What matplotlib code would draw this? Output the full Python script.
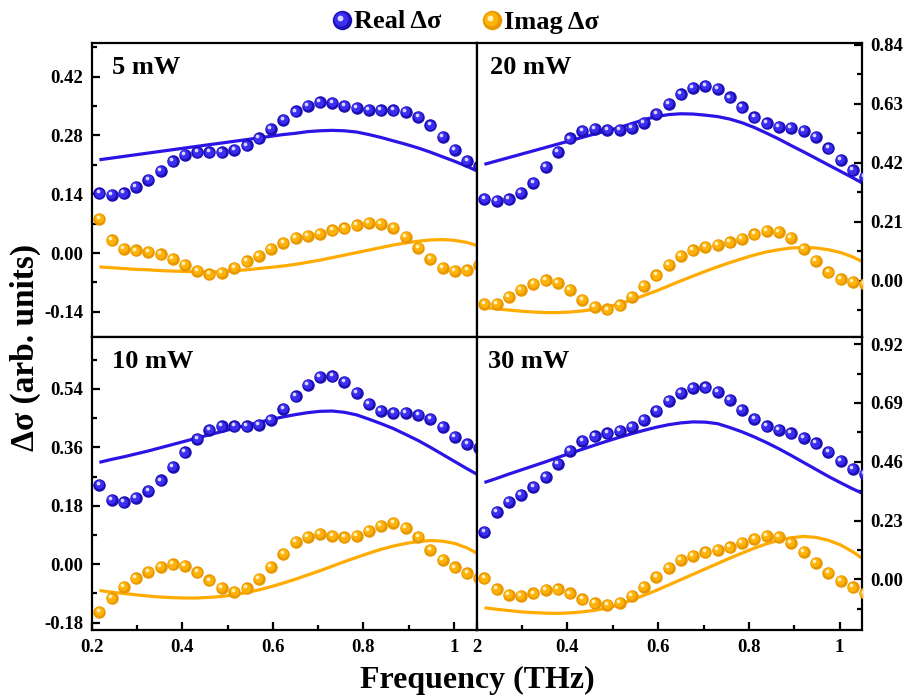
import matplotlib
matplotlib.use("Agg")
import matplotlib.pyplot as plt
from matplotlib.ticker import FixedLocator, FixedFormatter, FuncFormatter
from matplotlib.transforms import ScaledTranslation

plt.rcParams["font.family"] = ["Liberation Serif", "DejaVu Serif"]
plt.rcParams["font.weight"] = "bold"
plt.rcParams["axes.unicode_minus"] = False

# frequency grid (THz)
freq = [0.217, 0.244, 0.271, 0.298, 0.325, 0.352, 0.379, 0.406, 0.433, 0.460,
        0.488, 0.515, 0.542, 0.569, 0.596, 0.623, 0.650, 0.677, 0.704, 0.731,
        0.758, 0.785, 0.812, 0.839, 0.866, 0.893, 0.921, 0.948, 0.975, 1.002,
        1.029, 1.056]

# 5 mW
real_5 = [0.142, 0.138, 0.142, 0.158, 0.174, 0.196, 0.218, 0.234, 0.240, 0.240,
          0.240, 0.245, 0.256, 0.273, 0.296, 0.317, 0.337, 0.351, 0.359, 0.357,
          0.351, 0.345, 0.341, 0.340, 0.340, 0.336, 0.325, 0.304, 0.277, 0.245,
          0.220, 0.206]
imag_5 = [0.081, 0.030, 0.010, 0.006, 0.002, -0.003, -0.014, -0.029, -0.043, -0.051,
          -0.048, -0.035, -0.020, -0.006, 0.010, 0.025, 0.036, 0.041, 0.046, 0.054,
          0.059, 0.066, 0.072, 0.070, 0.060, 0.038, 0.013, -0.014, -0.035, -0.043,
          -0.041, -0.029]
real_fit_5 = [0.222, 0.226, 0.230, 0.234, 0.238, 0.242, 0.246, 0.250, 0.254, 0.258,
              0.262, 0.266, 0.270, 0.274, 0.278, 0.282, 0.285, 0.289, 0.291, 0.292,
              0.291, 0.288, 0.282, 0.275, 0.267, 0.259, 0.250, 0.240, 0.229, 0.218,
              0.206, 0.193]
imag_fit_5 = [-0.033, -0.035, -0.037, -0.039, -0.040, -0.042, -0.043, -0.044, -0.045, -0.045,
              -0.044, -0.042, -0.040, -0.037, -0.034, -0.031, -0.027, -0.022, -0.017, -0.011,
              -0.005, 0.001, 0.007, 0.013, 0.019, 0.024, 0.028, 0.031, 0.032, 0.030,
              0.025, 0.016]

# 20 mW
real_20 = [0.293, 0.284, 0.290, 0.314, 0.350, 0.406, 0.460, 0.507, 0.535, 0.541,
           0.537, 0.537, 0.546, 0.563, 0.594, 0.630, 0.664, 0.688, 0.694, 0.683,
           0.653, 0.618, 0.582, 0.561, 0.549, 0.546, 0.535, 0.513, 0.472, 0.430,
           0.394, 0.371]
imag_20 = [-0.083, -0.081, -0.057, -0.031, -0.010, 0.002, -0.006, -0.033, -0.067, -0.093,
           -0.102, -0.087, -0.057, -0.019, 0.020, 0.058, 0.088, 0.109, 0.121, 0.127,
           0.137, 0.149, 0.166, 0.177, 0.175, 0.153, 0.115, 0.071, 0.030, 0.005,
           -0.004, -0.010]
real_fit_20 = [0.415, 0.427, 0.439, 0.451, 0.463, 0.475, 0.487, 0.499, 0.511, 0.523,
               0.535, 0.546, 0.560, 0.574, 0.585, 0.592, 0.595, 0.594, 0.590, 0.585,
               0.576, 0.563, 0.546, 0.526, 0.505, 0.482, 0.459, 0.436, 0.413, 0.390,
               0.367, 0.343]
imag_fit_20 = [-0.095, -0.100, -0.104, -0.108, -0.111, -0.113, -0.113, -0.111, -0.107, -0.101,
               -0.093, -0.082, -0.068, -0.052, -0.036, -0.018, 0.000, 0.017, 0.034, 0.050,
               0.065, 0.079, 0.092, 0.103, 0.111, 0.117, 0.119, 0.117, 0.111, 0.101,
               0.085, 0.064]

# 10 mW
real_10 = [0.244, 0.199, 0.191, 0.204, 0.227, 0.258, 0.299, 0.345, 0.386, 0.415,
           0.425, 0.425, 0.425, 0.430, 0.445, 0.479, 0.517, 0.553, 0.577, 0.579,
           0.562, 0.528, 0.495, 0.473, 0.466, 0.466, 0.461, 0.447, 0.423, 0.392,
           0.370, 0.358]
imag_10 = [-0.146, -0.105, -0.069, -0.043, -0.023, -0.007, 0.000, -0.004, -0.025, -0.050,
           -0.072, -0.084, -0.074, -0.046, -0.009, 0.031, 0.068, 0.085, 0.093, 0.087,
           0.083, 0.087, 0.103, 0.118, 0.127, 0.113, 0.085, 0.044, 0.013, -0.010,
           -0.028, -0.043]
real_fit_10 = [0.314, 0.323, 0.331, 0.340, 0.349, 0.359, 0.369, 0.379, 0.389, 0.399,
               0.409, 0.419, 0.428, 0.437, 0.446, 0.454, 0.461, 0.467, 0.471, 0.472,
               0.468, 0.460, 0.447, 0.433, 0.418, 0.400, 0.381, 0.360, 0.338, 0.316,
               0.294, 0.273]
imag_fit_10 = [-0.081, -0.086, -0.090, -0.094, -0.098, -0.101, -0.103, -0.104, -0.104, -0.102,
               -0.099, -0.094, -0.087, -0.079, -0.069, -0.058, -0.046, -0.033, -0.020, -0.006,
               0.008, 0.021, 0.034, 0.046, 0.056, 0.064, 0.070, 0.073, 0.071, 0.064,
               0.050, 0.030]

# 30 mW
real_30 = [0.186, 0.265, 0.304, 0.332, 0.362, 0.401, 0.453, 0.503, 0.542, 0.560,
           0.571, 0.581, 0.597, 0.625, 0.659, 0.697, 0.730, 0.749, 0.751, 0.734,
           0.701, 0.662, 0.629, 0.599, 0.584, 0.571, 0.554, 0.532, 0.499, 0.464,
           0.431, 0.412]
imag_30 = [0.004, -0.039, -0.061, -0.064, -0.055, -0.042, -0.039, -0.055, -0.078, -0.094,
           -0.100, -0.091, -0.065, -0.029, 0.010, 0.046, 0.076, 0.091, 0.106, 0.115,
           0.125, 0.143, 0.158, 0.169, 0.167, 0.143, 0.108, 0.066, 0.026, -0.005,
           -0.031, -0.055]
real_fit_30 = [0.379, 0.395, 0.412, 0.428, 0.444, 0.460, 0.477, 0.493, 0.509, 0.525,
               0.541, 0.556, 0.570, 0.583, 0.595, 0.605, 0.612, 0.616, 0.615, 0.609,
               0.594, 0.577, 0.557, 0.535, 0.511, 0.485, 0.457, 0.430, 0.403, 0.378,
               0.354, 0.332]
imag_fit_30 = [-0.111, -0.117, -0.122, -0.127, -0.130, -0.132, -0.133, -0.131, -0.127, -0.121,
               -0.112, -0.099, -0.080, -0.062, -0.043, -0.022, -0.001, 0.020, 0.041, 0.062,
               0.083, 0.103, 0.122, 0.139, 0.153, 0.163, 0.168, 0.164, 0.153, 0.135,
               0.108, 0.075]

power_labels = ["5 mW", "20 mW", "10 mW", "30 mW"]
yticks_5 = [-0.14, 0.0, 0.14, 0.28, 0.42]
yticks_20 = [0.0, 0.21, 0.42, 0.63, 0.84]
yticks_10 = [-0.18, 0.0, 0.18, 0.36, 0.54]
yticks_30 = [0.0, 0.23, 0.46, 0.69, 0.92]
xticks = [0.2, 0.4, 0.6, 0.8, 1.0]
xtick_labels_left = ["0.2", "0.4", "0.6", "0.8", "1"]
xtick_labels_right = ["2", "0.4", "0.6", "0.8", "1"]
xticks_minor = [0.3, 0.5, 0.7, 0.9]

BLUE_LINE = "#2a14e6"
ORANGE_LINE = "#ffab00"
BLUE_BALL = ["#1d10b4", "#3b2df2", "#d8d6ff"]
ORANGE_BALL = ["#e89800", "#ffb20a", "#fff2b8"]

fig = plt.figure(figsize=(9.07, 6.97), dpi=100)
W, H = 907, 697


def px_axes(x0, y0, x1, y1):
    return fig.add_axes([x0 / W, 1 - y1 / H, (x1 - x0) / W, (y1 - y0) / H])


def balls(ax, x, y, shades, size, base=None, zorder=3):
    """Shaded sphere markers: dark body, lighter core, small glint."""
    base = base if base is not None else ax.transData
    layers = [(0.0, 0.0, size, shades[0]),
              (-0.5, 0.5, size * 0.72, shades[1]),
              (-1.2, 1.4, size * 0.30, shades[2])]
    for dx, dy, ms, c in layers:
        tr = base + ScaledTranslation(dx / 72, dy / 72, fig.dpi_scale_trans)
        ax.plot(x, y, "o", ms=ms, color=c, mec="none", transform=tr,
                zorder=zorder, linestyle="none")


panels = [
    dict(box=(91.7, 43, 476.7, 337), ylim=(-0.20, 0.50), yticks=yticks_5,
         real=real_5, imag=imag_5, real_fit=real_fit_5, imag_fit=imag_fit_5,
         side="left", bottom=False, label_x=0.052),
    dict(box=(476.7, 43, 862.3, 337), ylim=(-0.20, 0.847), yticks=yticks_20,
         real=real_20, imag=imag_20, real_fit=real_fit_20, imag_fit=imag_fit_20,
         side="right", bottom=False, label_x=0.035),
    dict(box=(91.7, 337, 476.7, 629.5), ylim=(-0.201, 0.70), yticks=yticks_10,
         real=real_10, imag=imag_10, real_fit=real_fit_10, imag_fit=imag_fit_10,
         side="left", bottom=True, label_x=0.052),
    dict(box=(476.7, 337, 862.3, 629.5), ylim=(-0.196, 0.948), yticks=yticks_30,
         real=real_30, imag=imag_30, real_fit=real_fit_30, imag_fit=imag_fit_30,
         side="right", bottom=True, label_x=0.030),
]

for p, label in zip(panels, power_labels):
    ax = px_axes(*p["box"])
    ax.set_xlim(0.2, 1.05)
    ax.set_ylim(*p["ylim"])

    ax.plot(freq, p["real_fit"], color=BLUE_LINE, lw=2.3, zorder=2, solid_capstyle="butt")
    ax.plot(freq, p["imag_fit"], color=ORANGE_LINE, lw=2.3, zorder=2, solid_capstyle="butt")
    balls(ax, freq, p["real"], BLUE_BALL, 9.0)
    balls(ax, freq, p["imag"], ORANGE_BALL, 9.0)

    for s in ax.spines.values():
        s.set_linewidth(1.6)

    # y axis
    yt = p["yticks"]
    step = yt[1] - yt[0]
    minors = [v + step / 2 for v in [yt[0] - step] + yt]
    ax.yaxis.set_major_locator(FixedLocator(yt))
    ax.yaxis.set_minor_locator(FixedLocator(minors))
    ax.yaxis.set_major_formatter(FuncFormatter(lambda v, pos: f"{v:.2f}"))
    if p["side"] == "left":
        ax.tick_params(axis="y", which="both", left=True, right=False,
                       labelleft=True, labelright=False)
    else:
        ax.tick_params(axis="y", which="both", left=False, right=True,
                       labelleft=False, labelright=True)

    # x axis
    ax.xaxis.set_major_locator(FixedLocator(xticks))
    ax.xaxis.set_minor_locator(FixedLocator(xticks_minor))
    labels = xtick_labels_left if p["side"] == "left" else xtick_labels_right
    ax.xaxis.set_major_formatter(FixedFormatter(labels))
    ax.tick_params(axis="x", which="both", bottom=p["bottom"], top=False,
                   labelbottom=p["bottom"])

    ax.tick_params(which="both", direction="in", width=1.6, labelsize=13.5, pad=6)
    ax.tick_params(which="major", length=5.5)
    ax.tick_params(which="minor", length=3.5)
    ax.tick_params(axis="x", pad=7)
    for t in ax.get_xticklabels() + ax.get_yticklabels():
        t.set_fontweight("bold")

    ax.text(p["label_x"], 0.955, label, transform=ax.transAxes, ha="left", va="top",
            fontsize=19, fontweight="bold")

# legend row above the panels
leg = fig.add_axes([0, 1 - 40 / H, 1, 40 / H])
leg.set_xlim(0, W)
leg.set_ylim(0, 1)
leg.axis("off")
balls(leg, [342], [0.5], BLUE_BALL, 14.0)
balls(leg, [492], [0.5], ORANGE_BALL, 14.0)
leg.text(354, 0.45, "Real Δσ", ha="left", va="center", fontsize=19, fontweight="bold")
leg.text(504, 0.45, "Imag Δσ", ha="left", va="center", fontsize=19, fontweight="bold")

fig.text(477 / W, 1 - 688 / H, "Frequency (THz)", ha="center", va="baseline",
         fontsize=23, fontweight="bold")
fig.text(25 / W, 1 - 347 / H, "Δσ (arb. units)", ha="center", va="center",
         rotation=90, fontsize=24, fontweight="bold")

fig.savefig("out.png", dpi=100)
